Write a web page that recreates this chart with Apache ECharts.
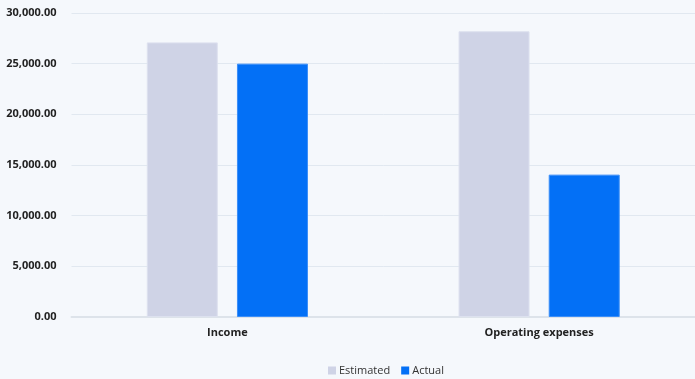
<!DOCTYPE html>
<html><head><meta charset="utf-8">
<script src="https://cdn.jsdelivr.net/npm/echarts@6/dist/echarts.min.js"></script>
<style>html,body{margin:0;padding:0;background:#f5f8fc}#c{width:695px;height:379px}</style>
</head><body><div id="c"></div>
<script>
const categories = ["Income", "Operating expenses"];
const seriesNames = ["Estimated", "Actual"];
const estimated = [27100, 28200];
const actual = [25000, 14050];
const chart = echarts.init(document.getElementById('c'), null, {renderer: 'canvas'});
const fmt = v => v.toLocaleString('en-US', {minimumFractionDigits: 2, maximumFractionDigits: 2});
chart.setOption({
  backgroundColor: '#f5f8fc',
  animation: false,
  textStyle: {fontFamily: 'Open Sans'},
  grid: {left: 71.5, top: 13, width: 632, height: 304, containLabel: false},
  legend: {
    top: 360, left: 323, itemWidth: 8, itemHeight: 8, itemGap: 11,
    icon: 'rect',
    itemStyle: {borderWidth: 0},
    textStyle: {fontSize: 11, color: '#333', fontFamily: 'Open Sans', padding: [0, 0, 0, -2]},
    data: seriesNames
  },
  xAxis: {
    type: 'category', data: categories,
    axisLine: {lineStyle: {color: '#dde3ea', width: 2}},
    axisTick: {show: false},
    axisLabel: {fontWeight: 'bold', fontSize: 11, color: '#222', margin: 10}
  },
  yAxis: {
    type: 'value', min: 0, max: 30000, interval: 5000,
    axisLabel: {formatter: fmt, fontWeight: 'bold', fontSize: 11, color: '#222', margin: 15},
    splitLine: {lineStyle: {color: '#e1e8f0', width: 1}},
    axisLine: {show: false}, axisTick: {show: false}
  },
  series: [
    {name: seriesNames[0], type: 'bar', data: estimated, barWidth: 71, barGap: '27%',
     itemStyle: {color: '#cfd3e6', borderColor: '#dde1ef', borderWidth: 1}},
    {name: seriesNames[1], type: 'bar', data: actual, barWidth: 71,
     itemStyle: {color: '#0370f6', borderColor: '#3b8ef8', borderWidth: 1}}
  ]
});
</script></body></html>
